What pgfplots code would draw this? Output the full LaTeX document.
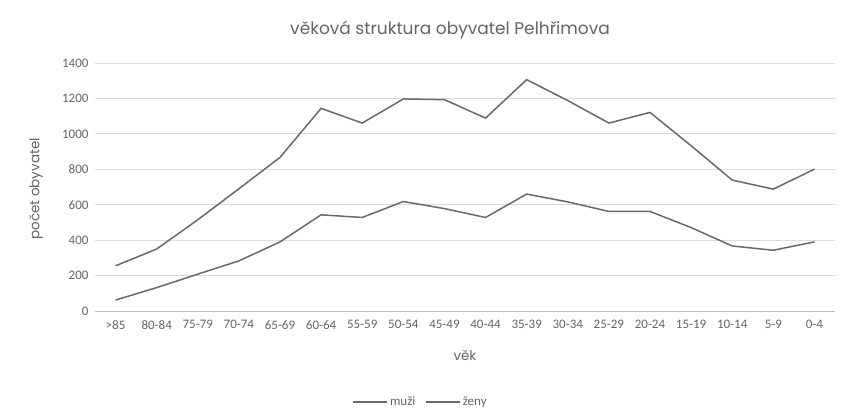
\documentclass[border=0pt]{standalone}
\usepackage{fontspec}
\setmainfont{Carlito}
\newfontfamily\titlefont{Poppins}
\usepackage{pgfplots}
\pgfplotsset{compat=1.18}
\definecolor{txtgray}{RGB}{100,100,100}
\definecolor{gridgray}{RGB}{220,220,220}
\definecolor{linegray}{RGB}{105,105,105}

% vekova struktura, muzi / zeny
\pgfplotstableread{
x muzi zeny
0 62 255
1 132 350
2 208 515
3 283 690
4 390 867
5 543 1144
6 528 1061
7 618 1197
8 578 1193
9 528 1089
10 660 1306
11 616 1188
12 562 1061
13 562 1121
14 471 933
15 367 739
16 343 688
17 390 801
}\datatable

\begin{document}
\begin{tikzpicture}[x=1pt,y=1pt]
\path[use as bounding box] (0,0) rectangle (841,416);
\begin{axis}[
    at={(95pt,105pt)}, anchor=south west,
    scale only axis,
    width=740pt, height=248pt,
    xmin=-0.5, xmax=17.5,
    ymin=0, ymax=1400,
    ytick={0,200,...,1400},
    xtick=data,
    xticklabels={>85,80-84,75-79,70-74,65-69,60-64,55-59,50-54,45-49,40-44,35-39,30-34,25-29,20-24,15-19,10-14,5-9,0-4},
    axis line style={draw=none},
    ymajorgrids, grid style={gridgray, line width=0.8pt},
    major tick length=0pt,
    tick label style={font=\fontsize{13}{15}\selectfont, text=txtgray},
    yticklabel style={xshift=-3pt},
    xticklabel style={yshift=-6pt},
    /pgf/number format/assume math mode=true,
    /pgf/number format/1000 sep={},
    extra y ticks={0}, extra y tick labels={},
    extra y tick style={grid style={color=gridgray!85!black, line width=0.9pt}},
    legend columns=2,
    legend style={at={(0.44,-0.367)}, anchor=center, draw=none, fill=none,
        font=\fontsize{13}{15}\selectfont, text=txtgray,
        /tikz/every even column/.append style={column sep=8pt}},
    legend image code/.code={\draw[#1] (0pt,0pt) -- (34pt,0pt);},
]
\addplot[linegray, line width=1.5pt] table[x=x, y=muzi] {\datatable};
\addlegendentry{muži}
\addplot[linegray, line width=1.5pt] table[x=x, y=zeny] {\datatable};
\addlegendentry{ženy}
\end{axis}
\node[txtgray, font=\titlefont\fontsize{17}{20}\selectfont] at (450,386) {věková struktura obyvatel Pelhřimova};
\node[txtgray, rotate=90, font=\titlefont\fontsize{13.5}{16}\selectfont] at (36,227) {počet obyvatel};
\node[txtgray, font=\titlefont\fontsize{13.5}{16}\selectfont] at (465,61) {věk};
\end{tikzpicture}
\end{document}
